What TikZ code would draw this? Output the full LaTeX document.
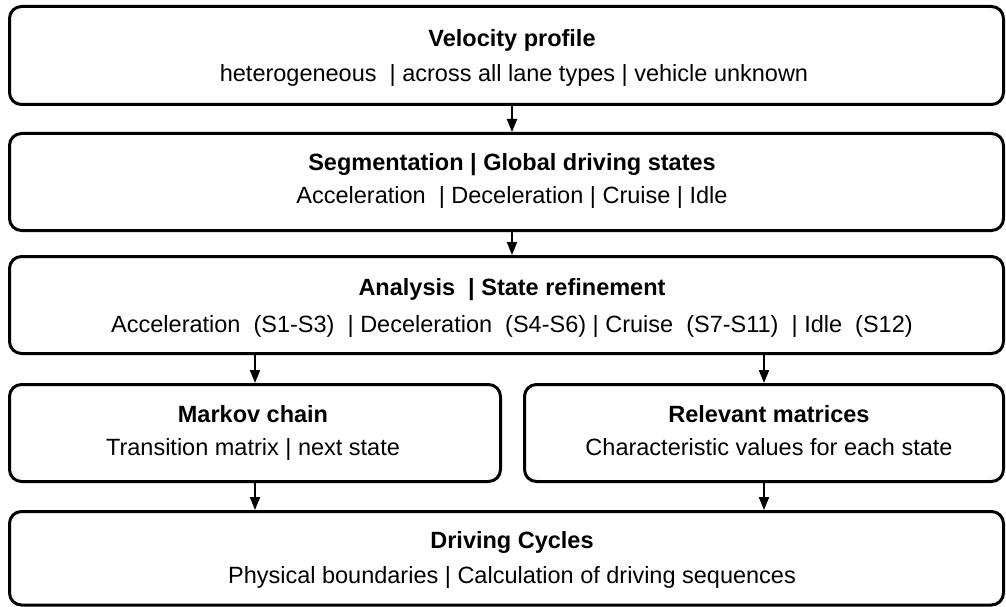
\documentclass[tikz,border=0pt]{standalone}
\usepackage{fontspec}
\setmainfont{Liberation Sans}
\usetikzlibrary{arrows.meta}
\begin{document}
\begin{tikzpicture}[x=1pt,y=-1pt,
  box/.style={draw=black,line width=3pt,rounded corners=12pt,inner sep=0pt,minimum width=994pt,minimum height=97pt},
  txt/.style={anchor=base,inner sep=0pt,font=\fontsize{23.5}{28}\selectfont},
  ttl/.style={txt,font=\fontsize{23.5}{28}\selectfont\bfseries},
  arr/.style={line width=2pt,-{Triangle[length=13pt,width=10pt]}}
]
\useasboundingbox (0,0) rectangle (1006,607);
% boxes
\node[box,minimum height=98pt] (b1) at (506.5,55.5) {};
\node[box] (b2) at (506.5,182) {};
\node[box] (b3) at (506.5,305) {};
\node[box,minimum width=491pt] (b4a) at (255,433) {};
\node[box,minimum width=479pt] (b4b) at (764,433) {};
\node[box,minimum height=93.5pt] (b5) at (506.5,558.25) {};
% texts
\node[ttl] (t1a) at (512,47) {Velocity profile};
\node[txt] (t1b) at (514,82) {heterogeneous ~| across all lane types | vehicle unknown};
\node[ttl] (t2a) at (512,170) {Segmentation | Global driving states};
\node[txt] (t2b) at (512,203) {Acceleration ~| Deceleration | Cruise | Idle};
\node[ttl] (t3a) at (512,295) {Analysis ~| State refinement};
\node[txt] (t3b) at (512,332) {Acceleration ~(S1-S3) ~| Deceleration ~(S4-S6) | Cruise ~(S7-S11) ~| Idle ~(S12)};
\node[ttl] (t4a) at (253,422) {Markov chain};
\node[txt] (t4b) at (253,455) {Transition matrix | next state};
\node[ttl] (t5a) at (769,422) {Relevant matrices};
\node[txt] (t5b) at (769,455) {Characteristic values for each state};
\node[ttl] (t6a) at (512,548) {Driving Cycles};
\node[txt] (t6b) at (512,583) {Physical boundaries | Calculation of driving sequences};
% arrows
\draw[arr] ([xshift=5.5pt]b1.south) -- ([xshift=5.5pt]b2.north);
\draw[arr] ([xshift=5.5pt]b2.south) -- ([xshift=5.5pt]b3.north);
\draw[arr] (b4a.north |- b3.south) -- (b4a.north);
\draw[arr] (b4b.north |- b3.south) -- (b4b.north);
\draw[arr] (b4a.south) -- (b4a.south |- b5.north);
\draw[arr] (b4b.south) -- (b4b.south |- b5.north);
\end{tikzpicture}
\end{document}
